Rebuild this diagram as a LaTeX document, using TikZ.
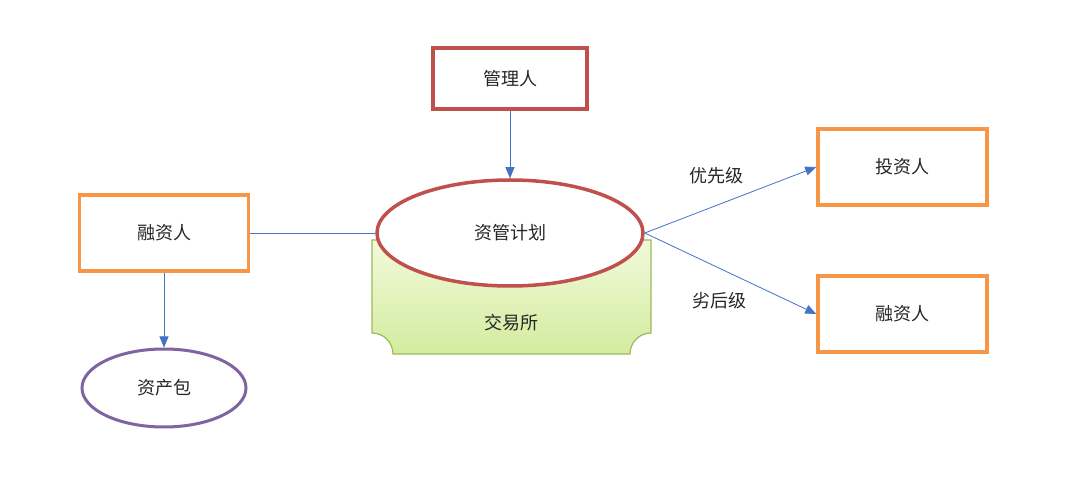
\documentclass[tikz,border=0pt]{standalone}
\usepackage{fontspec}
\newfontfamily\cjk{Noto Sans CJK SC}
\usetikzlibrary{shapes.geometric,arrows.meta}
\definecolor{cred}{HTML}{C0504D}
\definecolor{corange}{HTML}{F79646}
\definecolor{cpurple}{HTML}{8064A2}
\definecolor{cgreen}{HTML}{9BBB59}
\definecolor{cblue}{HTML}{4472C4}
\definecolor{gtop}{HTML}{F2F9DC}
\definecolor{gbot}{HTML}{D3EC9E}
\definecolor{ctext}{HTML}{262626}
\tikzset{
  lbl/.style={font=\cjk\fontsize{18}{21}\selectfont, text=ctext},
  redbox/.style={draw=cred, line width=3.5pt, fill=white, minimum width=154pt, minimum height=61pt, inner sep=0pt, lbl},
  orbox/.style={draw=corange, line width=3.5pt, fill=white, minimum width=169pt, minimum height=76pt, inner sep=0pt, lbl},
  conn/.style={draw=cblue, line width=0.8pt},
  arr/.style={conn, -{Triangle[length=11pt,width=9pt]}},
}
\begin{document}
\begin{tikzpicture}[x=1pt,y=-1pt]
\useasboundingbox[fill=white] (0,0) rectangle (1080,478);
% exchange shape
\path[draw=cgreen, line width=1.2pt, top color=gtop, bottom color=gbot]
  (372,240) -- (651,240) -- (651,333)
  .. controls (639.4,333) and (630,342.4) .. (630,354)
  -- (393,354)
  .. controls (393,342.4) and (383.6,333) .. (372,333) -- cycle;
\node[lbl] (ex) at (511,323) {交易所};
% nodes
\node[redbox] (mgr) at (510,78.5) {管理人};
\node[ellipse, draw=cred, line width=3.5pt, fill=white, minimum width=266pt, minimum height=106pt, inner sep=0pt, lbl] (plan) at (510,233) {资管计划};
\node[orbox] (fin1) at (164,233) {融资人};
\node[ellipse, draw=cpurple, line width=3pt, fill=white, minimum width=164pt, minimum height=78pt, inner sep=0pt, lbl] (pkg) at (164,388) {资产包};
\node[orbox] (inv) at (902.5,167) {投资人};
\node[orbox] (fin2) at (902.5,314) {融资人};
% connectors
\draw[arr] (mgr.south) -- (plan.north);
\draw[conn] (fin1.east) -- (plan.west);
\draw[arr] (fin1.south) -- (pkg.north);
\draw[arr] (plan.east) -- (inv.west);
\draw[arr] (plan.east) -- (fin2.west);
% labels
\node[lbl] (pri) at (716,176) {优先级};
\node[lbl] (sub) at (719,301) {劣后级};
\end{tikzpicture}
\end{document}
